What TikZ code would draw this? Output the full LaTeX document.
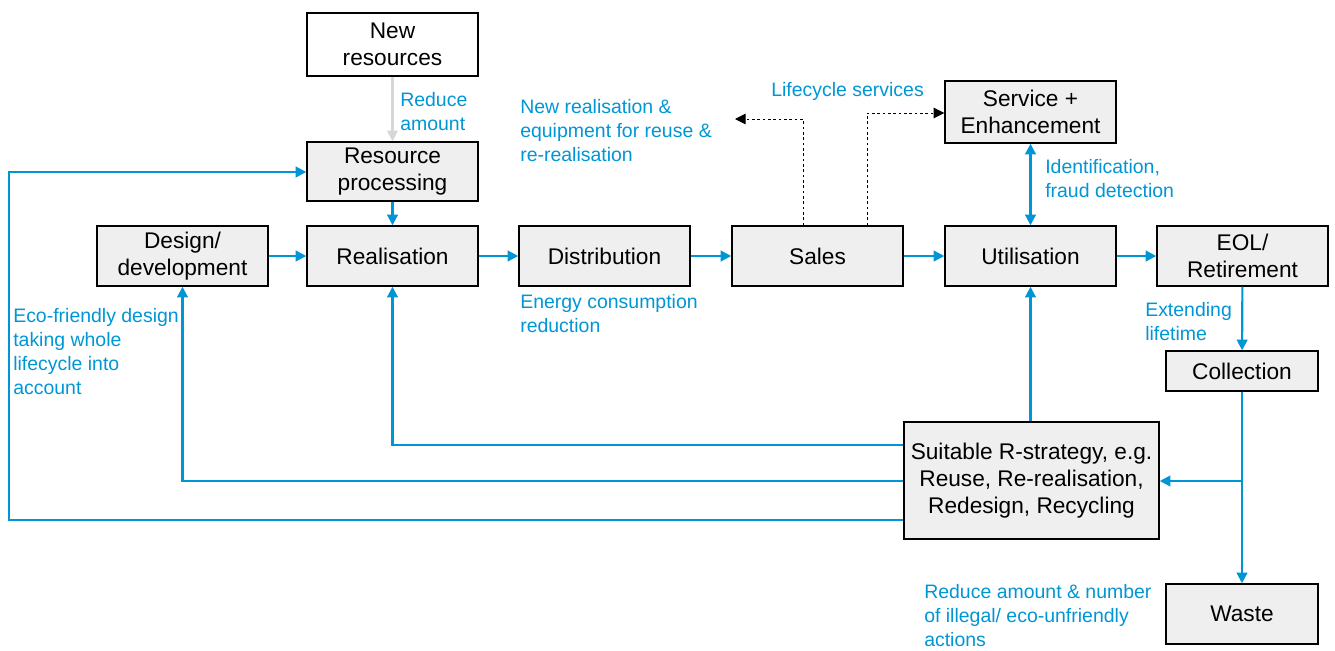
\documentclass[tikz,border=0pt]{standalone}
\usepackage{fontspec}
\setmainfont{Liberation Sans}
\usetikzlibrary{arrows.meta,positioning}
\definecolor{cblue}{RGB}{0,150,214}
\definecolor{boxgray}{RGB}{239,239,239}
\definecolor{lgray}{RGB}{215,215,215}
\begin{document}
\begin{tikzpicture}[x=0.75pt,y=-0.75pt,
  box/.style={draw=black,line width=1.1pt,fill=boxgray,inner sep=0pt,align=center,font=\fontsize{17}{20}\selectfont},
  lbl/.style={anchor=north west,inner sep=0pt,align=left,text=cblue,font=\fontsize{14.6}{18}\selectfont},
  flow/.style={draw=cblue,line width=1.6pt,-{Triangle[length=8pt,width=8pt]}},
  dot/.style={draw=black,line width=0.7pt,dash pattern=on 2pt off 2pt,-{Triangle[length=8pt,width=8pt]}}]
\useasboundingbox (0,0) rectangle (1335,650);
% boxes
\node[box,fill=white,minimum width=171*0.75pt,minimum height=63*0.75pt] (newres) at (392.5,44.5) {New\\resources};
\node[box,minimum width=171*0.75pt,minimum height=59*0.75pt] (resproc) at (392.5,171.5) {Resource\\processing};
\node[box,minimum width=171*0.75pt,minimum height=60*0.75pt] (design) at (182.5,256) {Design/\\development};
\node[box,minimum width=171*0.75pt,minimum height=60*0.75pt] (real) at (392.5,256) {Realisation};
\node[box,minimum width=171*0.75pt,minimum height=60*0.75pt] (dist) at (604.5,256) {Distribution};
\node[box,minimum width=171*0.75pt,minimum height=60*0.75pt] (sales) at (817.5,256) {Sales};
\node[box,minimum width=171*0.75pt,minimum height=60*0.75pt] (util) at (1030.5,256) {Utilisation};
\node[box,minimum width=171*0.75pt,minimum height=60*0.75pt] (eol) at (1242.5,256) {EOL/\\Retirement};
\node[box,minimum width=171*0.75pt,minimum height=62*0.75pt] (serv) at (1030.5,112) {Service +\\Enhancement};
\node[box,minimum width=152*0.75pt,minimum height=40*0.75pt] (coll) at (1242,371) {Collection};
\node[box,minimum width=255*0.75pt,minimum height=117*0.75pt] (rstrat) at (1031.5,480.5) {Suitable R-strategy, e.g.\\Reuse, Re-realisation,\\Redesign, Recycling};
\node[box,minimum width=152*0.75pt,minimum height=60*0.75pt] (waste) at (1242,614) {Waste};
% coordinates
\coordinate (split) at (1242,481);
\coordinate (dotL) at (735,119);
% flows
\draw[draw=lgray,line width=1.6pt,-{Triangle[length=8pt,width=8pt]}] (newres) -- (resproc);
\draw[flow] (resproc) -- (real);
\draw[flow] (design) -- (real);
\draw[flow] (real) -- (dist);
\draw[flow] (dist) -- (sales);
\draw[flow] (sales) -- (util);
\draw[flow] (util) -- (eol);
\draw[flow] (eol) -- (coll);
\draw[flow] (coll) -- (waste);
\draw[flow] (split) -- (rstrat.east |- split);
\draw[flow] (rstrat.north -| util) -- (util.south);
\draw[draw=cblue,line width=1.6pt,{Triangle[length=8pt,width=8pt]}-{Triangle[length=8pt,width=8pt]}] (serv) -- (util);
\draw[flow] (rstrat.west |- 0,445) -| (real.south);
\draw[flow] (rstrat.west |- 0,481) -| (design.south);
\draw[flow] (rstrat.west |- 0,520) -- (9,520) -- (9,172) -- (resproc.west |- 0,172);
% dotted
\draw[dot] (sales.north -| 803,0) |- (dotL);
\draw[dot] (sales.north -| 867,0) |- (serv.west |- 0,113);
% labels
\node[lbl] (l1) at (400,92) {Reduce\\amount};
\node[lbl] (l2) at (520,99) {New realisation \&\\equipment for reuse \&\\re-realisation};
\node[lbl] (l3) at (771,82) {Lifecycle services};
\node[lbl] (l4) at (1045,159) {Identification,\\fraud detection};
\node[lbl] (l5) at (520,294) {Energy consumption\\reduction};
\node[lbl] (l6) at (13,308) {Eco-friendly design\\taking whole\\lifecycle into\\account};
\node[lbl] (l7) at (1145,302) {Extending\\lifetime};
\node[lbl] (l8) at (924,584) {Reduce amount \& number\\of illegal/ eco-unfriendly\\actions};
\end{tikzpicture}
\end{document}
